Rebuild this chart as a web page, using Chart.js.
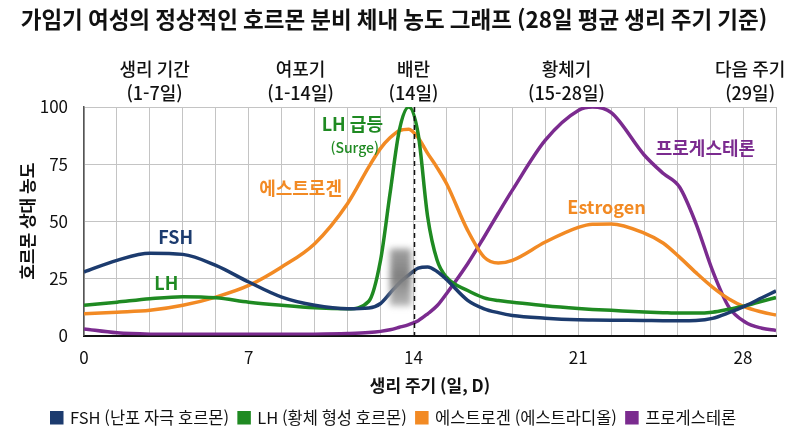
<!DOCTYPE html>
<html lang="ko">
<head>
<meta charset="utf-8">
<script src="https://cdn.jsdelivr.net/npm/chart.js@4"></script>
<style>
  html, body { margin: 0; padding: 0; background: #fff; }
  #wrap { width: 800px; height: 436px; }
</style>
</head>
<body>
<div id="wrap"><canvas id="chart" width="800" height="436"></canvas></div>
<script>
'use strict'

// 생리 주기 일자 (x 좌표)
var days = [0, 1.4, 2.8, 4.2, 5.6, 7, 8.4, 9.8, 11.2, 12.1, 12.6, 13, 13.4, 13.8, 14.2, 14.6, 15, 15.4,
	16.3, 17, 17.6, 18.2, 19.6, 21, 21.6, 22.4, 23.8, 24.6, 25.3, 26, 26.7, 27.4, 28.1, 28.8, 29.4];

// 호르몬별 상대 농도
var fsh = [27.8, 32.9, 36, 35.5, 30.7, 23.4, 16.8, 13.2, 11.7, 12, 14, 18.5, 23, 26.5, 29.5, 30, 28, 24.5,
	15.4, 11.7, 10, 8.8, 7.6, 6.9, 6.8, 6.7, 6.6, 6.5, 6.5, 6.6, 7.5, 10, 13, 16.5, 19.5];
var lh = [13.2, 14.6, 16.1, 17, 16.5, 14.6, 13.2, 12.1, 11.7, 15, 33, 62, 90, 100, 88, 52, 33, 25.5,
	19.7, 16.5, 15.3, 14.6, 13, 11.8, 11.4, 11, 10.3, 10, 9.8, 9.8, 10.2, 11.5, 13, 15, 16.6];
var estrogen = [9.5, 10.2, 11, 13.2, 16.8, 21.9, 30, 40.2, 57.8, 73.8, 81.9, 86.5, 89.7, 90.3, 86.5, 79.7, 73.5, 66.5,
	46, 34.3, 31.7, 32.9, 40.9, 47.3, 48.7, 48.8, 44.8, 40.5, 34.3, 27.5, 21.2, 16, 12.4, 10.3, 8.9];
var progesterone = [2.9, 1.2, 0.6, 0.5, 0.5, 0.5, 0.5, 0.6, 0.9, 1.3, 1.8, 2.5, 3.6, 4.8, 6.5, 9.5, 13, 18.3,
	31.4, 43.1, 53.5, 63.6, 85.5, 98.5, 100, 97.5, 79, 71, 65, 49, 28.5, 12.4, 5.8, 3.2, 2.2];

var seriesNames = ['FSH (난포 자극 호르몬)', 'LH (황체 형성 호르몬)', '에스트로겐 (에스트라디올)', '프로게스테론'];
var seriesColors = ['#1c3b6e', '#1f8a22', '#f28a24', '#7b2b8f'];

// 상단 주기 구간 라벨 [중심 일자, 1줄, 2줄]
var phaseDays = [3.0, 9.2, 14.0, 20.5, 28.3];
var phaseNames = ['생리 기간', '여포기', '배란', '황체기', '다음 주기'];
var phaseRanges = ['(1-7일)', '(1-14일)', '(14일)', '(15-28일)', '(29일)'];

// 곡선 옆 설명 라벨
var noteTexts = ['FSH', 'LH', '에스트로겐', 'LH 급등', '(Surge)', 'Estrogen', '프로게스테론'];
var noteDays = [3.9, 3.5, 9.2, 11.4, 11.5, 22.2, 26.4];
var noteValues = [43, 22.8, 64.5, 92.5, 82, 56, 82];
var noteColors = [0, 1, 2, 1, 1, 2, 3];
var noteSizes = [18, 18, 18, 18, 14, 18, 18];

var ovulationDay = 14;

var FONT = "'Noto Sans CJK KR', 'Noto Sans', sans-serif";
Chart.defaults.font.family = FONT;
Chart.defaults.color = '#111';

function toPoints(vals) {
	return vals.map(function (v, i) { return { x: days[i], y: v }; });
}

var overlay = {
	id: 'overlay',
	afterDatasetsDraw: function (chart) {
		var ctx = chart.ctx, xs = chart.scales.x, ys = chart.scales.y, area = chart.chartArea;
		ctx.save();

		// 가려진 부분 (흐린 회색 박스)
		ctx.filter = 'blur(3px)';
		var g = ctx.createLinearGradient(0, ys.getPixelForValue(38), 0, ys.getPixelForValue(13));
		g.addColorStop(0, 'rgba(150,150,150,0.9)');
		g.addColorStop(0.5, 'rgba(120,120,120,0.95)');
		g.addColorStop(1, 'rgba(170,170,170,0.85)');
		ctx.fillStyle = g;
		var bx = xs.getPixelForValue(13.0), bx2 = xs.getPixelForValue(13.9);
		ctx.fillRect(bx, ys.getPixelForValue(38), bx2 - bx, ys.getPixelForValue(13) - ys.getPixelForValue(38));
		ctx.filter = 'none';

		// 배란일 점선
		var dx = Math.round(xs.getPixelForValue(ovulationDay)) + 0.5;
		ctx.strokeStyle = '#111';
		ctx.lineWidth = 1.5;
		ctx.setLineDash([5, 4]);
		ctx.beginPath();
		ctx.moveTo(dx, area.top);
		ctx.lineTo(dx, area.bottom);
		ctx.stroke();
		ctx.setLineDash([]);

		// 곡선 라벨
		ctx.textAlign = 'center';
		ctx.textBaseline = 'middle';
		noteTexts.forEach(function (t, i) {
			ctx.font = (noteSizes[i] < 16 ? '500 ' : 'bold ') + noteSizes[i] + 'px ' + FONT;
			ctx.fillStyle = seriesColors[noteColors[i]];
			ctx.fillText(t, xs.getPixelForValue(noteDays[i]), ys.getPixelForValue(noteValues[i]));
		});

		// 상단 구간 라벨
		ctx.fillStyle = '#111';
		ctx.font = '500 18px ' + FONT;
		phaseDays.forEach(function (d, i) {
			var px = xs.getPixelForValue(d);
			ctx.fillText(phaseNames[i], px, area.top - 38);
			ctx.fillText(phaseRanges[i], px, area.top - 14);
		});
		ctx.restore();
	}
};

new Chart(document.getElementById('chart'), {
	type: 'line',
	data: {
		datasets: [fsh, lh, estrogen, progesterone].map(function (vals, i) {
			return {
				label: seriesNames[i],
				data: toPoints(vals),
				borderColor: seriesColors[i],
				backgroundColor: seriesColors[i],
				borderWidth: 3.5,
				pointRadius: 0,
				cubicInterpolationMode: 'monotone',
				fill: false
			};
		})
	},
	options: {
		responsive: false,
		animation: false,
		layout: { padding: { left: 12, right: 24, top: 6, bottom: 0 } },
		plugins: {
			title: {
				display: true,
				text: '가임기 여성의 정상적인 호르몬 분비 체내 농도 그래프 (28일 평균 생리 주기 기준)',
				font: { size: 22.5, weight: 'bold' },
				color: '#111',
				padding: { top: 0, bottom: 74 }
			},
			legend: {
				position: 'bottom',
				labels: {
					boxWidth: 10,
					boxHeight: 10,
					padding: 10,
					font: { size: 16.5 },
					color: '#111'
				}
			},
			tooltip: { enabled: false }
		},
		scales: {
			x: {
				type: 'linear',
				min: 0,
				max: 29.4,
				grid: { color: '#c4c4c4', drawTicks: false },
				border: { color: '#111', width: 2 },
				ticks: {
					stepSize: 1.4,
					autoSkip: false,
					maxRotation: 0,
					padding: 12,
					font: { size: 17 },
					color: '#111',
					callback: function (v, i) { return i % 5 === 0 ? String(Math.round(v)) : ''; }
				},
				title: {
					display: true,
					text: '생리 주기 (일, D)',
					font: { size: 17, weight: 'bold' },
					color: '#111',
					padding: { top: 6, bottom: 4 }
				},
				afterFit: function (s) { s.height = 64; }
			},
			y: {
				min: 0,
				max: 100,
				grid: { color: '#c4c4c4', drawTicks: false },
				border: { color: '#555', width: 1.5 },
				ticks: {
					stepSize: 25,
					padding: 16,
					font: { size: 17 },
					color: '#111'
				},
				title: {
					display: true,
					text: '호르몬 상대 농도',
					font: { size: 17, weight: 'bold' },
					color: '#111',
					padding: { top: 5, bottom: 0 }
				},
				afterFit: function (s) { s.width = 72; }
			}
		}
	},
	plugins: [overlay]
});
</script>
</body>
</html>
